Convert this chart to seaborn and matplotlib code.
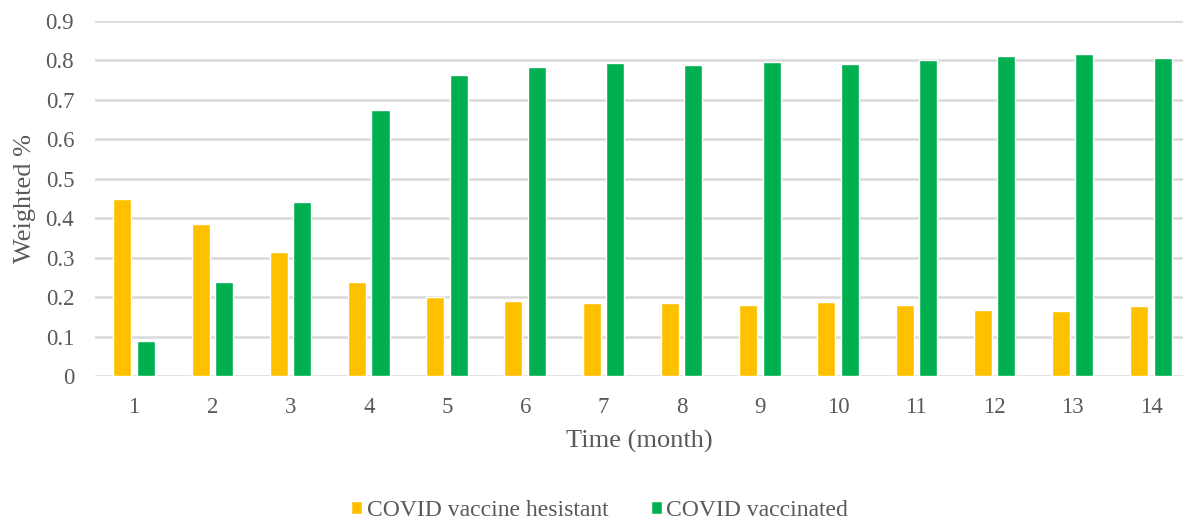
import matplotlib
matplotlib.use("Agg")
import matplotlib.pyplot as plt
import seaborn as sns
import pandas as pd

months = [str(m) for m in range(1, 15)]
hesitant = [0.45, 0.385, 0.314, 0.239, 0.201, 0.190, 0.184, 0.184, 0.181, 0.188, 0.181, 0.167, 0.165, 0.177]
vaccinated = [0.09, 0.239, 0.441, 0.675, 0.762, 0.783, 0.793, 0.789, 0.795, 0.792, 0.801, 0.811, 0.816, 0.805]
series_names = ["COVID vaccine hesistant", "COVID vaccinated"]
colors = ["#FFC000", "#00B050"]
y_ticks = [0, 0.1, 0.2, 0.3, 0.4, 0.5, 0.6, 0.7, 0.8, 0.9]
y_ticklabels = ["0", "0.1", "0.2", "0.3", "0.4", "0.5", "0.6", "0.7", "0.8", "0.9"]

df = pd.DataFrame({
    "month": months * 2,
    "value": hesitant + vaccinated,
    "series": [series_names[0]] * len(months) + [series_names[1]] * len(months),
})

sns.set_theme(style="white")
plt.rcParams["font.family"] = ["Liberation Serif", "DejaVu Serif"]
text_grey = "#595959"

fig = plt.figure(figsize=(11.83, 5.23), dpi=100)
ax = fig.add_axes([95 / 1183, 1 - 376 / 523, 1 - 95 / 1183, (376 - 21) / 523])

sns.barplot(data=df, x="month", y="value", hue="series", order=months,
            hue_order=series_names, palette=colors, width=0.6, gap=0.23,
            saturation=1, ax=ax, legend=True)

ax.set_ylim(0, 0.9)
ax.set_xlim(-0.5, 13.41)
ax.set_yticks(y_ticks)
ax.set_yticklabels(y_ticklabels)
ax.yaxis.grid(True, color="#D9D9D9", linewidth=1.8, zorder=0)
ax.set_axisbelow(True)
for s in ax.spines.values():
    s.set_visible(False)
ax.tick_params(axis="both", length=0, labelsize=16.5, colors=text_grey)
ax.tick_params(axis="y", pad=15)
ax.tick_params(axis="x", pad=15)
ax.set_xlabel("Time (month)", fontsize=19, color=text_grey, labelpad=9)
ax.set_ylabel("Weighted %", fontsize=19, color=text_grey, labelpad=7)

handles, labels = ax.get_legend_handles_labels()
ax.get_legend().remove()
fig.legend(handles, labels, loc="lower center", bbox_to_anchor=(0.507, -0.036),
           ncol=2, frameon=False, fontsize=17, labelcolor=text_grey,
           handlelength=0.45, handleheight=0.45, handletextpad=0.2, columnspacing=1.8)

fig.savefig("out.png", dpi=100)
